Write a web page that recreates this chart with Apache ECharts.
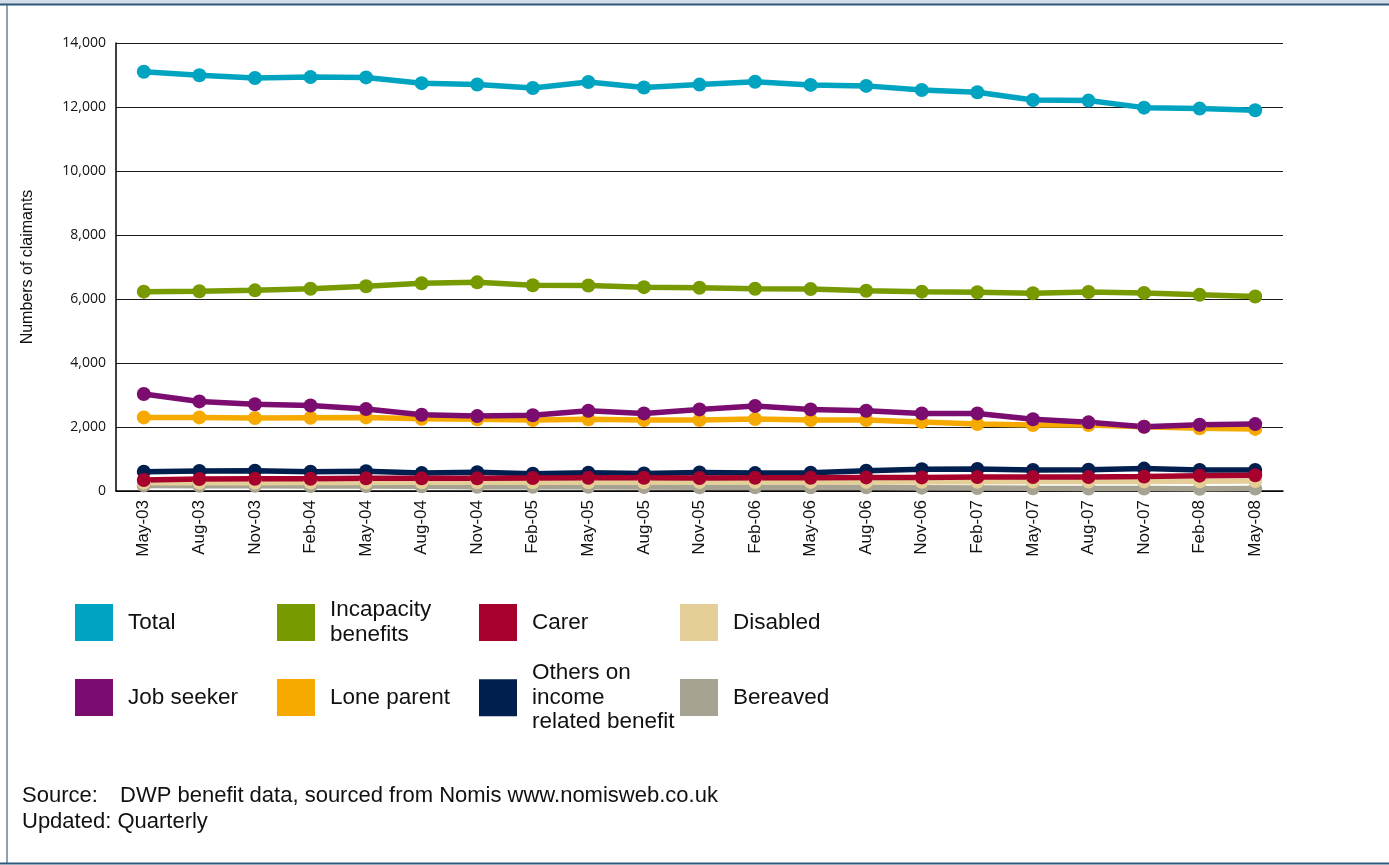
<!DOCTYPE html>
<html>
<head>
<meta charset="utf-8">
<script src="https://cdn.jsdelivr.net/npm/echarts@6/dist/echarts.min.js"></script>
<style>
html,body{margin:0;padding:0;background:#fff;}
#chart{width:1389px;height:865px;}
</style>
</head>
<body>
<div id="chart"></div>
<script>
var categories = ['May-03','Aug-03','Nov-03','Feb-04','May-04','Aug-04','Nov-04','Feb-05','May-05','Aug-05','Nov-05','Feb-06','May-06','Aug-06','Nov-06','Feb-07','May-07','Aug-07','Nov-07','Feb-08','May-08'];
var total = [13100,12990,12905,12935,12925,12745,12705,12595,12780,12610,12700,12790,12690,12660,12530,12460,12220,12200,11980,11950,11900];
var incapacity = [6230,6240,6270,6320,6400,6490,6520,6430,6420,6370,6350,6320,6310,6260,6230,6210,6180,6220,6190,6130,6080];
var jobSeeker = [3030,2800,2710,2670,2560,2385,2340,2365,2510,2425,2550,2655,2550,2510,2425,2425,2240,2145,2010,2070,2090];
var loneParent = [2300,2300,2280,2290,2300,2260,2240,2220,2240,2220,2220,2250,2220,2220,2160,2090,2060,2060,2010,1960,1940];
var others = [605,625,635,605,615,560,585,540,570,550,580,560,570,635,680,690,655,665,700,655,655];
var carer = [345,375,385,385,395,395,395,405,415,415,405,415,415,425,425,435,435,435,450,480,490];
var disabled = [255,260,260,265,265,270,270,270,275,275,280,280,285,285,290,290,295,295,300,305,310];
var bereaved = [175,165,165,155,155,145,135,135,135,125,115,115,115,115,105,95,85,80,75,70,75];
var yTicks = [0,2000,4000,6000,8000,10000,12000,14000];

var colors = {
  'Total':'#00a3c0',
  'Incapacity benefits':'#769a00',
  'Carer':'#a8002c',
  'Disabled':'#e4cf98',
  'Job seeker':'#7b0c70',
  'Lone parent':'#f6aa00',
  'Others on income related benefit':'#001f4e',
  'Bereaved':'#a6a393'
};

function line(name, data){
  return {
    name:name, type:'line', data:data,
    symbol:'circle', symbolSize:14,
    lineStyle:{width:5.5,color:colors[name]},
    itemStyle:{color:colors[name]},
    animation:false
  };
}

var FONT = 'Liberation Sans, Arial, sans-serif';
var legendFont = {fontFamily:FONT, fontSize:22.5, lineHeight:24.5, color:'#111', padding:[0,0,0,10]};
function leg(name, left, top, label){
  return {
    data:[name], left:left, top:top, padding:0,
    icon:'rect', itemWidth:38, itemHeight:37,
    selectedMode:false,
    textStyle:legendFont,
    formatter:function(){return label;}
  };
}

var chart = echarts.init(document.getElementById('chart'), null, {renderer:'canvas'});
chart.setOption({
  backgroundColor:'#fff',
  animation:false,
  grid:{left:116, right:106, top:43, bottom:374, containLabel:false},
  xAxis:{
    type:'category', data:categories, boundaryGap:true,
    axisLine:{lineStyle:{color:'#000',width:1.5}},
    axisTick:{inside:true, length:4, interval:0, lineStyle:{color:'#000'}},
    axisLabel:{rotate:90, interval:0, margin:9, fontSize:17, color:'#111', fontFamily:FONT},
    splitLine:{show:false}
  },
  yAxis:{
    type:'value', min:yTicks[0], max:yTicks[yTicks.length-1], interval:2000,
    name:'Numbers of claimants', nameLocation:'middle', nameGap:80, nameRotate:90,
    nameTextStyle:{fontSize:16, color:'#111', fontFamily:FONT},
    axisLine:{show:true, lineStyle:{color:'#000',width:1.5}},
    axisTick:{show:false},
    axisLabel:{margin:10, fontSize:14, color:'#111', fontFamily:'Open Sans, sans-serif',
      formatter:function(v){return v.toLocaleString('en-US');}},
    splitLine:{show:true, lineStyle:{color:'#1a1a1a', width:1.2}}
  },
  legend:[
    leg('Total',75,604,'Total'),
    leg('Incapacity benefits',277,598,'Incapacity\nbenefits'),
    leg('Carer',479,604,'Carer'),
    leg('Disabled',680,604,'Disabled'),
    leg('Job seeker',75,679,'Job seeker'),
    leg('Lone parent',277,679,'Lone parent'),
    leg('Others on income related benefit',479,661,'Others on\nincome\nrelated benefit'),
    leg('Bereaved',680,679,'Bereaved')
  ],
  graphic:[
    {type:'rect', shape:{x:0,y:0,width:1389,height:4}, style:{fill:'#d2dce7'}, silent:true},
    {type:'line', shape:{x1:0,y1:4.5,x2:1389,y2:4.5}, style:{stroke:'#2e587a',lineWidth:2}, silent:true},
    {type:'line', shape:{x1:7,y1:5,x2:7,y2:864}, style:{stroke:'#3b6688',lineWidth:1.2}, silent:true},
    {type:'line', shape:{x1:0,y1:863.5,x2:1389,y2:863.5}, style:{stroke:'#2e587a',lineWidth:2}, silent:true},
    {type:'text', left:22, top:785, style:{text:'Source:', fontSize:22, fill:'#111', fontFamily:FONT}},
    {type:'text', left:120, top:785, style:{text:'DWP benefit data, sourced from Nomis www.nomisweb.co.uk', fontSize:22, fill:'#111', fontFamily:FONT}},
    {type:'text', left:22, top:811, style:{text:'Updated: Quarterly', fontSize:22, fill:'#111', fontFamily:FONT}}
  ],
  series:[
    line('Others on income related benefit', others),
    line('Bereaved', bereaved),
    line('Disabled', disabled),
    line('Carer', carer),
    line('Lone parent', loneParent),
    line('Job seeker', jobSeeker),
    line('Incapacity benefits', incapacity),
    line('Total', total)
  ]
});
</script>
</body>
</html>
